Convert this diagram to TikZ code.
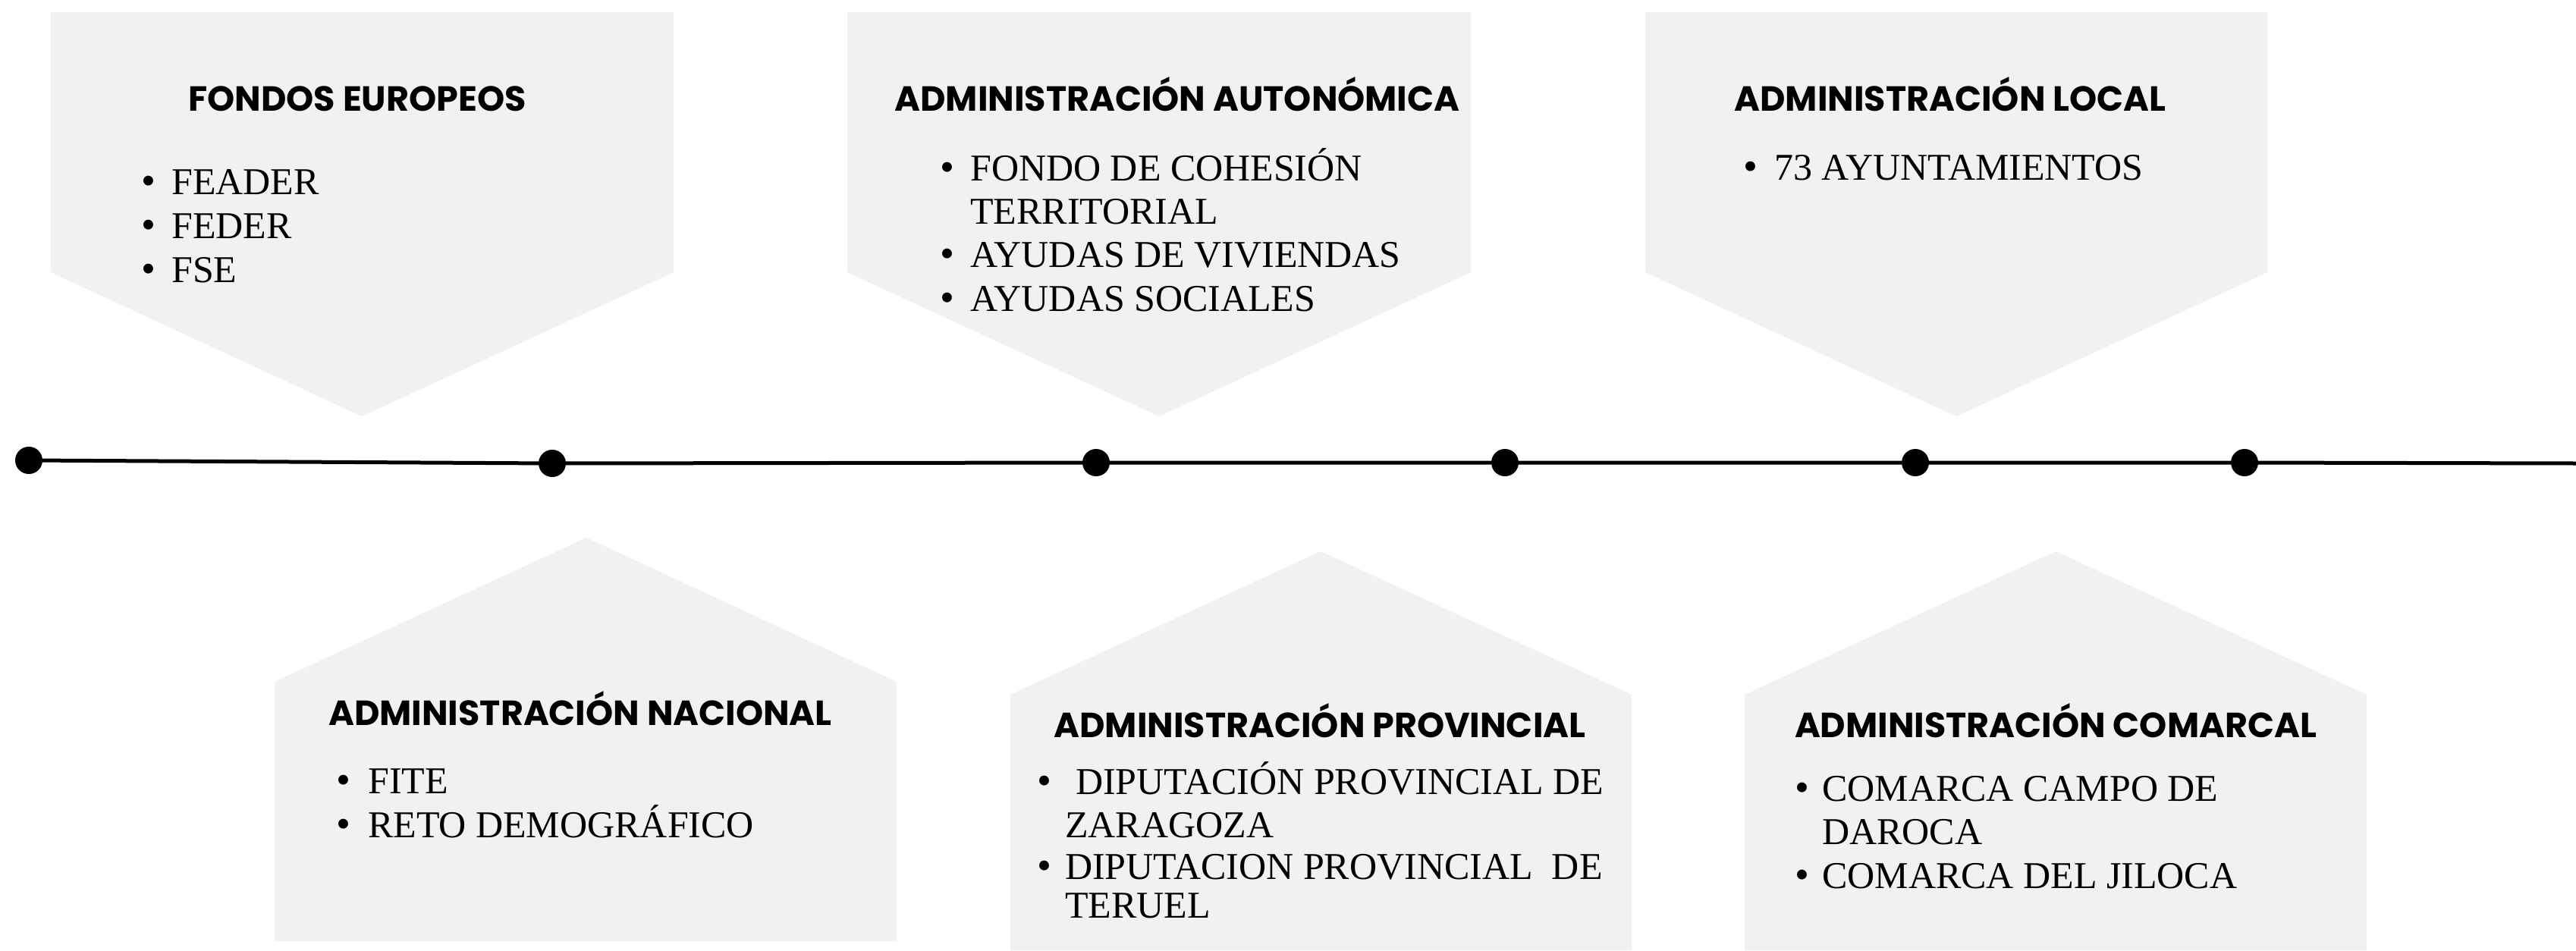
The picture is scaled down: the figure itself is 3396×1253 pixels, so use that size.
\documentclass[tikz,border=0pt]{standalone}
\usepackage{fontspec}
\setmainfont{Liberation Serif}
\newfontfamily\titlefont{Poppins}
\definecolor{panelgrey}{HTML}{F2F1EF}
\begin{document}
\begin{tikzpicture}[x=1pt,y=-1pt,
  panel/.style={fill=panelgrey,draw=none},
  ttl/.style={font=\titlefont\bfseries\fontsize{46}{52}\selectfont,anchor=base,inner sep=0pt},
  itm/.style={font=\fontsize{50}{56}\selectfont,anchor=base west,inner sep=0pt},
  bul/.style={font=\fontsize{54}{56}\selectfont,anchor=base west,inner sep=0pt},
  tdot/.style={circle,fill=black,minimum size=36pt,inner sep=0pt},
  tline/.style={line width=5pt,black}]

\path[use as bounding box,fill=white] (0,0) rectangle (3396,1253);

% panels
\path[panel] (67,16) -- (888,16) -- (888,359) -- (477,549) -- (67,359) -- cycle;
\path[panel] (1117,16) -- (1939,16) -- (1939,359) -- (1528,549) -- (1117,359) -- cycle;
\path[panel] (2169,16) -- (2989,16) -- (2989,359) -- (2579,549) -- (2169,359) -- cycle;
\path[panel] (362,1241) -- (362,899) -- (773,709) -- (1182,899) -- (1182,1241) -- cycle;
\path[panel] (1332,1253) -- (1332,916) -- (1741,727) -- (2151,916) -- (2151,1253) -- cycle;
\path[panel] (2300,1253) -- (2300,916) -- (2710,727) -- (3120,916) -- (3120,1253) -- cycle;

% timeline
\node[tdot] (d1) at (38,607) {};
\node[tdot] (d2) at (728,611) {};
\node[tdot] (d3) at (1445,610) {};
\node[tdot] (d4) at (1984,610) {};
\node[tdot] (d5) at (2525,610) {};
\node[tdot] (d6) at (2959,610) {};
\coordinate (tend) at (3396,611);
\draw[tline] (d1) -- (d2) -- (d3) -- (d4) -- (d5) -- (d6) -- (tend);

% panel 1
\node[ttl] (t1) at (471,146) {FONDOS EUROPEOS};
\node[bul] (b11) at (186,256) {•};
\node[itm] (i11) at (226,256) {FEADER};
\node[bul] (b12) at (186,314) {•};
\node[itm] (i12) at (226,314) {FEDER};
\node[bul] (b13) at (186,372) {•};
\node[itm] (i13) at (226,372) {FSE};

% panel 2
\node[ttl] (t2) at (1552,146) {ADMINISTRACIÓN AUTONÓMICA};
\node[bul] (b21) at (1239,238) {•};
\node[itm] (i21) at (1279,238) {FONDO DE COHESIÓN};
\node[itm] (i21b) at (1279,295) {TERRITORIAL};
\node[bul] (b22) at (1239,352) {•};
\node[itm] (i22) at (1279,352) {AYUDAS DE VIVIENDAS};
\node[bul] (b23) at (1239,410) {•};
\node[itm] (i23) at (1279,410) {AYUDAS SOCIALES};

% panel 3
\node[ttl] (t3) at (2571,146) {ADMINISTRACIÓN LOCAL};
\node[bul] (b31) at (2298,237) {•};
\node[itm] (i31) at (2339,237) {73 AYUNTAMIENTOS};

% panel 4
\node[ttl] (t4) at (765,956) {ADMINISTRACIÓN NACIONAL};
\node[bul] (b41) at (443,1046) {•};
\node[itm] (i41) at (485,1046) {FITE};
\node[bul] (b42) at (443,1104) {•};
\node[itm] (i42) at (485,1104) {RETO DEMOGRÁFICO};

% panel 5
\node[ttl] (t5) at (1740,972) {ADMINISTRACIÓN PROVINCIAL};
\node[bul] (b51) at (1367,1047) {•};
\node[itm] (i51) at (1418,1047) {DIPUTACIÓN PROVINCIAL DE};
\node[itm] (i51b) at (1404,1104) {ZARAGOZA};
\node[bul] (b52) at (1367,1159) {•};
\node[itm] (i52) at (1404,1159) {DIPUTACION PROVINCIAL\ \ DE};
\node[itm] (i52b) at (1404,1210) {TERUEL};

% panel 6
\node[ttl] (t6) at (2710,972) {ADMINISTRACIÓN COMARCAL};
\node[bul] (b61) at (2366,1056) {•};
\node[itm] (i61) at (2402,1056) {COMARCA CAMPO DE};
\node[itm] (i61b) at (2402,1113) {DAROCA};
\node[bul] (b62) at (2366,1171) {•};
\node[itm] (i62) at (2402,1171) {COMARCA DEL JILOCA};
\end{tikzpicture}
\end{document}
